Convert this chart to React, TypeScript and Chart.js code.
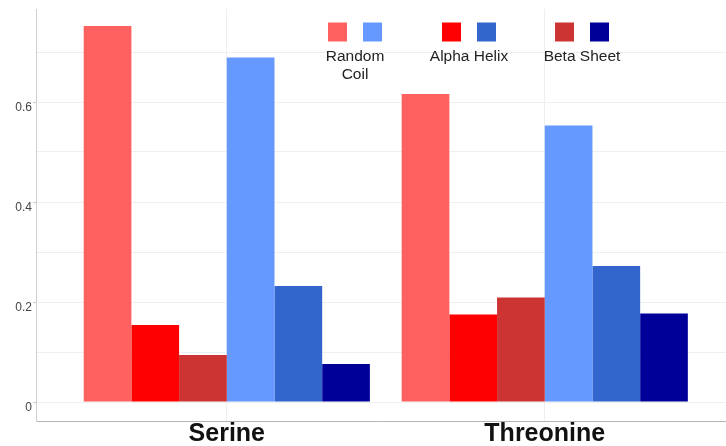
import React, { useEffect, useRef } from "react";
import { Chart, registerables } from "chart.js";

Chart.register(...registerables);

const categories = ["Serine", "Threonine"];
const randomCoilRed = [0.752, 0.616];
const alphaHelixRed = [0.154, 0.175];
const betaSheetRed = [0.094, 0.209];
const randomCoilBlue = [0.689, 0.553];
const alphaHelixBlue = [0.232, 0.272];
const betaSheetBlue = [0.076, 0.177];

const yTickValues = [0, 0.1, 0.2, 0.3, 0.4, 0.5, 0.6, 0.7];
const yTickLabels: Record<string, string> = { "0": "0", "0.2": "0.2", "0.4": "0.4", "0.6": "0.6" };

const legendGroups = [
  { lines: ["Random", "Coil"], colors: ["#ff6161", "#6699ff"] },
  { lines: ["Alpha Helix"], colors: ["#ff0000", "#3366cc"] },
  { lines: ["Beta Sheet"], colors: ["#cc3333", "#000099"] },
];

const FONT = "'Liberation Sans', Arial, Helvetica, sans-serif";

const pairLegend = {
  id: "pairLegend",
  afterDraw(chart: any) {
    const ctx = chart.ctx;
    const centers = [355, 469, 582];
    const sq = 19;
    const gap = 35;
    ctx.save();
    legendGroups.forEach((g, i) => {
      const cx = centers[i];
      g.colors.forEach((c, j) => {
        const x = cx + (j === 0 ? -gap / 2 : gap / 2) - sq / 2;
        ctx.fillStyle = c;
        ctx.fillRect(x, 22.5, sq, sq);
      });
      ctx.fillStyle = "#222222";
      ctx.font = `15.5px ${FONT}`;
      ctx.textAlign = "center";
      ctx.textBaseline = "middle";
      g.lines.forEach((line, k) => {
        ctx.fillText(line, cx, 57 + k * 18);
      });
    });
    ctx.restore();
  },
};

function makeData(vals: number[]) {
  return categories.map((_, i) => ({ x: i, y: vals[i] }));
}

export default function App() {
  const ref = useRef<HTMLCanvasElement | null>(null);
  useEffect(() => {
    document.body.style.margin = "0";
    const canvas = ref.current;
    if (!canvas) return;
    const series = [
      { label: "Random Coil (red)", data: randomCoilRed, color: "#ff6161" },
      { label: "Alpha Helix (red)", data: alphaHelixRed, color: "#ff0000" },
      { label: "Beta Sheet (red)", data: betaSheetRed, color: "#cc3333" },
      { label: "Random Coil (blue)", data: randomCoilBlue, color: "#6699ff" },
      { label: "Alpha Helix (blue)", data: alphaHelixBlue, color: "#3366cc" },
      { label: "Beta Sheet (blue)", data: betaSheetBlue, color: "#000099" },
    ];
    const chart = new Chart(canvas, {
      type: "bar",
      data: {
        datasets: series.map((s) => ({
          label: s.label,
          data: makeData(s.data) as any,
          backgroundColor: s.color,
          borderWidth: 0,
          categoryPercentage: 0.9,
          barPercentage: 1,
        })),
      },
      options: {
        animation: false,
        responsive: true,
        maintainAspectRatio: false,
        layout: { padding: { top: 9, left: 0, right: 0, bottom: 0 } },
        plugins: { legend: { display: false }, tooltip: { enabled: false } },
        scales: {
          x: {
            type: "linear",
            offset: false,
            min: -0.6,
            max: 1.57,
            afterBuildTicks: (scale: any) => {
              scale.ticks = categories.map((_, i) => ({ value: i }));
            },
            afterFit: (scale: any) => {
              scale.height = 25;
            },
            grid: { color: "#eeeeee", drawTicks: false, offset: false },
            border: { color: "#b5b5b5" },
            ticks: {
              padding: 1,
              autoSkip: false,
              maxRotation: 0,
              color: "#111111",
              font: { family: FONT, size: 25, weight: "bold", lineHeight: 1 },
              callback: (v: any) => categories[Math.round(Number(v))] ?? "",
            },
          },
          y: {
            type: "linear",
            min: -0.038,
            max: 0.786,
            afterBuildTicks: (scale: any) => {
              scale.ticks = yTickValues.map((v) => ({ value: v }));
            },
            afterFit: (scale: any) => {
              scale.width = 36;
            },
            grid: {
              color: "#efefef",
              tickLength: 3,
              tickColor: (ctx: any) =>
                ctx.tick && yTickLabels[String(ctx.tick.value)] !== undefined ? "#cccccc" : "rgba(0,0,0,0)",
            },
            border: { color: "#d0d0d0" },
            ticks: {
              padding: 1,
              labelOffset: 6,
              color: "#444444",
              font: { family: FONT, size: 12 },
              callback: (v: any) => {
                const key = String(Math.round(Number(v) * 10) / 10);
                return yTickLabels[key] ?? "";
              },
            },
          },
        },
      },
      plugins: [pairLegend],
    });
    return () => chart.destroy();
  }, []);
  return (
    <div style={{ width: 726, height: 446, position: "relative" }}>
      <canvas ref={ref} />
    </div>
  );
}
